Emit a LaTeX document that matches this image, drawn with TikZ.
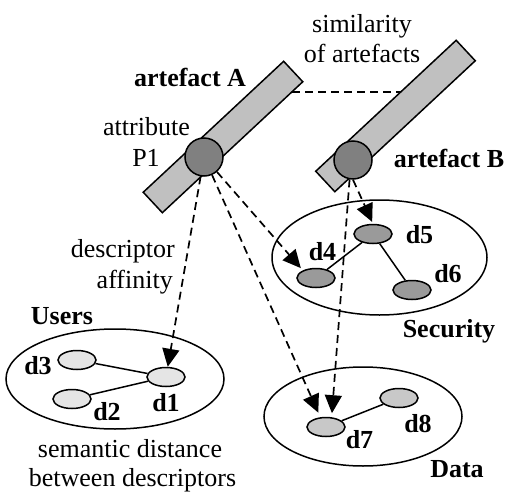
\documentclass[tikz,border=0pt]{standalone}
\usepackage{fontspec}
\setmainfont{Liberation Serif}
\usetikzlibrary{shapes.geometric,arrows.meta}

\definecolor{barfill}{HTML}{C0C0C0}
\definecolor{attrfill}{HTML}{808080}
\definecolor{secfill}{HTML}{9A9A9A}
\definecolor{userfill}{HTML}{E5E5E5}
\definecolor{datafill}{HTML}{C8C8C8}

\tikzset{
  every node/.style={font=\fontsize{26}{31}\selectfont},
  boldlabel/.style={font=\fontsize{26}{31}\selectfont\bfseries, anchor=base, inner sep=0pt},
  plainlabel/.style={anchor=base, inner sep=0pt},
  artefactbar/.style={draw, line width=1.5pt, fill=barfill, rectangle,
    minimum width=192pt, minimum height=28pt, inner sep=0pt, rotate=43},
  attrdot/.style={draw, line width=1.5pt, fill=attrfill, circle,
    minimum size=38pt, inner sep=0pt},
  descrgroup/.style={draw, line width=1.5pt, ellipse, inner sep=0pt},
  descr/.style={draw, line width=1.5pt, ellipse, inner sep=0pt,
    minimum width=38pt, minimum height=19pt},
  link/.style={line width=1.5pt},
  affinity/.style={line width=1.7pt, dash pattern=on 8pt off 5pt,
    -{Triangle[length=18pt,width=17pt]}},
  similar/.style={line width=1.7pt, dash pattern=on 8pt off 5pt},
}

\begin{document}
\begin{tikzpicture}[x=1pt,y=-1pt]
\useasboundingbox (0,0) rectangle (507,493);

% artefacts and their attributes
\node[artefactbar] (barA) at (223,137) {};
\node[artefactbar] (barB) at (395.5,116) {};
\node[attrdot] (pA) at (204,157) {};
\node[attrdot] (pB) at (353,160) {};

% similarity between the two artefacts
\coordinate (simA) at (292,92);
\coordinate (simB) at (401,92);
\draw[similar] (simA) -- (simB);

% descriptor groups
\node[descrgroup, minimum width=218pt, minimum height=100pt] (users) at (115,379) {};
\node[descrgroup, minimum width=215pt, minimum height=115pt] (security) at (379.5,257.5) {};
\node[descrgroup, minimum width=198pt, minimum height=99pt] (data) at (363,416.5) {};

% descriptors
\node[descr, fill=userfill] (d1) at (166,377) {};
\node[descr, fill=userfill] (d2) at (72,399) {};
\node[descr, fill=userfill] (d3) at (77,360) {};
\node[descr, fill=secfill] (d4) at (316,278) {};
\node[descr, fill=secfill] (d5) at (373,234) {};
\node[descr, fill=secfill] (d6) at (412,290) {};
\node[descr, fill=datafill] (d7) at (326,427) {};
\node[descr, fill=datafill] (d8) at (399,398) {};

% semantic distances
\draw[link] (d3) -- (d1);
\draw[link] (d2) -- (d1);
\draw[link] (d4) -- (d5);
\draw[link] (d5) -- (d6);
\draw[link] (d7) -- (d8);

% descriptor affinities
\draw[affinity] (pA) -- (d1);
\draw[affinity, shorten >=3pt] (pA) -- (d4.150);
\draw[affinity, shorten >=5pt] (pA) -- (d7.120);
\draw[affinity, shorten >=2pt] (pB.south) -- (d5.north);
\draw[affinity, shorten >=4pt] (pB.260) -- (d7.60);

% labels
\node[plainlabel] (simlbl1) at (362,32) {similarity};
\node[plainlabel] (simlbl2) at (362,62) {of artefacts};
\node[boldlabel] (artA) at (190,86) {artefact A};
\node[boldlabel] (artB) at (449,167) {artefact B};
\node[plainlabel] (attr1) at (146.5,135) {attribute};
\node[plainlabel] (attr2) at (146,166) {P1};
\node[plainlabel, anchor=base east] (aff1) at (175,257) {descriptor};
\node[plainlabel, anchor=base east] (aff2) at (173,288) {affinity};
\node[boldlabel] (usersl) at (62,324) {Users};
\node[boldlabel] (secl) at (449,337) {Security};
\node[boldlabel] (datal) at (457,477) {Data};
\node[boldlabel] (l1) at (166,411) {d1};
\node[boldlabel] (l2) at (107,420) {d2};
\node[boldlabel] (l3) at (38,374) {d3};
\node[boldlabel] (l4) at (322.5,260) {d4};
\node[boldlabel] (l5) at (419.5,243) {d5};
\node[boldlabel] (l6) at (448,282) {d6};
\node[boldlabel] (l7) at (359.5,448) {d7};
\node[boldlabel] (l8) at (418,432) {d8};
\node[plainlabel] (sem1) at (130,457) {semantic distance};
\node[plainlabel] (sem2) at (132.5,486) {between descriptors};
\end{tikzpicture}
\end{document}
